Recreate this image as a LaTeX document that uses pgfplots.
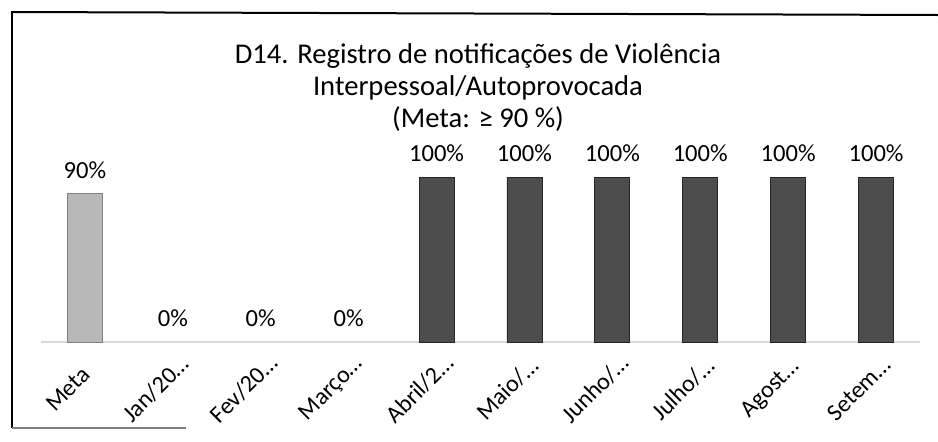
\documentclass[border=0pt]{standalone}
\usepackage{fontspec}
\setmainfont{Carlito}
\usepackage{pgfplots}
\pgfplotsset{compat=1.18}
\definecolor{metagray}{HTML}{B8B8B8}
\definecolor{bardark}{HTML}{4D4D4D}
\begin{document}
\begin{tikzpicture}
\path[use as bounding box] (0,0) rectangle (469pt,220.5pt);
\begin{axis}[
  at={(20.5pt,49.5pt)}, anchor=south west,
  scale only axis, width=439.5pt, height=82.5pt,
  xmin=-0.5, xmax=9.5, ymin=0, ymax=100,
  axis y line=none, axis x line*=bottom,
  x axis line style={gray!30, line width=0.6pt, -},
  xtick={0,...,9},
  xticklabels={Meta,Jan/20…,Fev/20…,Março…,Abril/2…,Maio/…,Junho/…,Julho/…,Agost…,Setem…},
  major tick length=0pt,
  xticklabel style={xshift=-8.5pt, yshift=-23.5pt, rotate=45, anchor=center, inner sep=0pt, font=\fontsize{12}{13}\selectfont},
  ybar, bar width=17.5pt, bar shift=0pt,
  clip=false,
  nodes near coords={\pgfmathprintnumber[assume math mode=true]{\pgfplotspointmeta}\%},
  every node near coord/.append style={font=\fontsize{12.3}{13}\selectfont, text=black, yshift=4pt},
]
\addplot[fill=metagray, draw=gray] coordinates {(0,90)};
\addplot[fill=none, draw=none] coordinates {(1,0) (2,0) (3,0)};
\addplot[fill=bardark, draw=black!85] coordinates {(4,100) (5,100) (6,100) (7,100) (8,100) (9,100)};
\end{axis}
\node[align=center, font=\fontsize{14.3}{16}\selectfont] at (239pt,176.5pt)
  {D14. Registro de notificações de Violência\\Interpessoal/Autoprovocada\\(Meta: ≥ 90 \%)};
\draw[line width=1pt] (6pt,214.5pt) -- (6pt,6.5pt);
\draw[line width=1pt] (5.5pt,214.5pt) -- (469pt,213pt);
\draw[line width=0.8pt, gray] (6pt,6.5pt) -- (93pt,6.5pt);
\end{tikzpicture}
\end{document}
